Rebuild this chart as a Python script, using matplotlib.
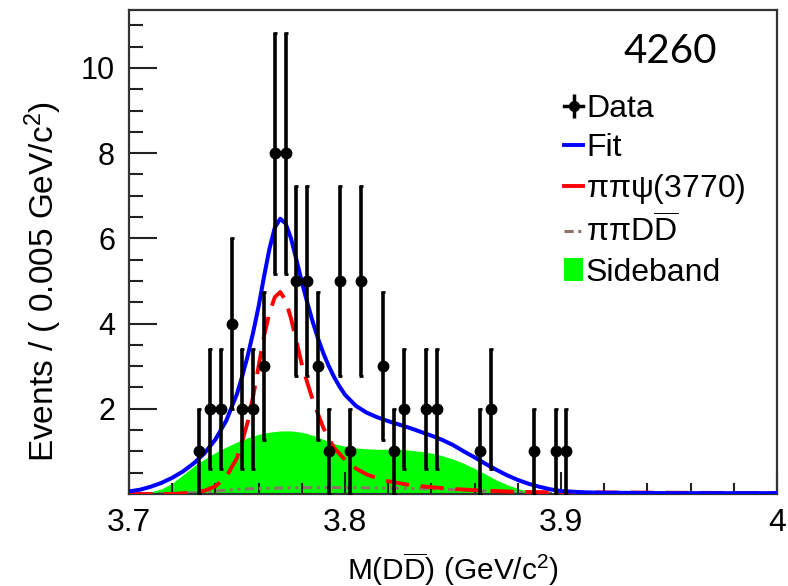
import numpy as np
import matplotlib
matplotlib.use("Agg")
import matplotlib.pyplot as plt
from matplotlib.lines import Line2D
from matplotlib.patches import Patch

plt.rcParams["font.family"] = ["Liberation Sans", "DejaVu Sans"]
plt.rcParams["mathtext.fontset"] = "custom"
plt.rcParams["mathtext.rm"] = "Liberation Sans"
plt.rcParams["mathtext.it"] = "Liberation Sans"
plt.rcParams["mathtext.bf"] = "Liberation Sans:bold"

# Binned data: bin centres (GeV/c^2) and event counts
bin_centers = [3.7325, 3.7375, 3.7425, 3.7475, 3.7525, 3.7575, 3.7625, 3.7675,
               3.7725, 3.7775, 3.7825, 3.7875, 3.7925, 3.7975, 3.8025, 3.8075,
               3.8175, 3.8225, 3.8275, 3.8375, 3.8425, 3.8625, 3.8675, 3.8875,
               3.8975, 3.9025]
counts = [1, 2, 2, 4, 2, 2, 3, 8,
          8, 5, 5, 3, 1, 5, 1, 5,
          3, 1, 2, 2, 2, 1, 2, 1,
          1, 1]

# Total fit
fit_x = [3.700, 3.705, 3.710, 3.715, 3.720, 3.725, 3.730, 3.735, 3.740, 3.745,
         3.750, 3.7525, 3.755, 3.7575, 3.760, 3.7625, 3.765, 3.7675, 3.770,
         3.7725, 3.775, 3.7775, 3.780, 3.7825, 3.785, 3.7875, 3.790, 3.7925,
         3.795, 3.7975, 3.800, 3.805, 3.810, 3.815, 3.820, 3.825, 3.830, 3.835,
         3.840, 3.845, 3.850, 3.855, 3.860, 3.865, 3.870, 3.875, 3.880, 3.885,
         3.890, 3.895, 3.900, 3.910, 3.920, 3.950, 4.000]
fit_y = [0.06, 0.10, 0.17, 0.26, 0.38, 0.53, 0.72, 0.96, 1.28, 1.72,
         2.35, 2.78, 3.25, 3.80, 4.40, 5.10, 5.75, 6.25, 6.46,
         6.35, 6.00, 5.50, 4.98, 4.50, 4.05, 3.65, 3.30, 3.00,
         2.74, 2.52, 2.33, 2.07, 1.91, 1.80, 1.71, 1.63, 1.55, 1.46,
         1.37, 1.27, 1.15, 1.00, 0.86, 0.71, 0.57, 0.44, 0.33, 0.24,
         0.17, 0.11, 0.07, 0.04, 0.03, 0.02, 0.02]

# pi pi psi(3770) component
psi_x = [3.700, 3.720, 3.730, 3.735, 3.740, 3.745, 3.750, 3.7525, 3.755, 3.7575,
         3.760, 3.7625, 3.765, 3.7675, 3.770, 3.7725, 3.775, 3.7775, 3.780,
         3.7825, 3.785, 3.7875, 3.790, 3.7925, 3.795, 3.800, 3.805, 3.810,
         3.815, 3.820, 3.830, 3.840, 3.850, 3.860, 3.870, 3.880, 3.900, 3.950,
         4.000]
psi_y = [0.00, 0.00, 0.03, 0.08, 0.18, 0.40, 0.85, 1.25, 1.70, 2.30,
         3.00, 3.70, 4.25, 4.62, 4.74, 4.55, 4.12, 3.58, 3.05,
         2.62, 2.22, 1.88, 1.55, 1.30, 1.08, 0.80, 0.60, 0.46,
         0.37, 0.30, 0.21, 0.16, 0.12, 0.09, 0.07, 0.05, 0.04, 0.03,
         0.02]

# pi pi D Dbar component
ddbar_x = [3.700, 3.720, 3.730, 3.740, 3.750, 3.760, 3.780, 3.800, 3.820, 3.840,
           3.860, 3.880, 3.900, 3.920, 4.000]
ddbar_y = [0.00, 0.01, 0.03, 0.07, 0.11, 0.13, 0.15, 0.15, 0.14, 0.12,
           0.08, 0.04, 0.01, 0.00, 0.00]

# Sideband shape
side_x = [3.700, 3.705, 3.710, 3.715, 3.720, 3.725, 3.730, 3.735, 3.740, 3.745,
          3.750, 3.755, 3.760, 3.765, 3.770, 3.775, 3.780, 3.785, 3.790, 3.795,
          3.800, 3.805, 3.810, 3.815, 3.820, 3.825, 3.830, 3.835, 3.840, 3.845,
          3.850, 3.855, 3.860, 3.865, 3.870, 3.875, 3.880, 3.885, 3.890, 3.895,
          3.900, 4.000]
side_y = [0.00, 0.02, 0.05, 0.12, 0.25, 0.45, 0.65, 0.82, 0.97, 1.10,
          1.22, 1.32, 1.40, 1.45, 1.48, 1.48, 1.45, 1.38, 1.28, 1.18,
          1.12, 1.08, 1.06, 1.05, 1.05, 1.05, 1.03, 1.00, 0.96, 0.90,
          0.82, 0.72, 0.60, 0.47, 0.33, 0.22, 0.13, 0.07, 0.03, 0.01,
          0.00, 0.00]

DDBAR_STYLE = (0, (3, 1.5, 1, 1.5, 1, 1.5))

fig = plt.figure(figsize=(7.88, 5.86), dpi=100)
ax = fig.add_axes([129 / 788, 1 - 494 / 586, (777 - 129) / 788, (494 - 10) / 586])

ax.fill_between(side_x, side_y, 0, color="#00ff00", lw=0, zorder=1)
ax.plot(ddbar_x, ddbar_y, color="#8c7268", lw=2.2, ls=DDBAR_STYLE, zorder=2)
ax.plot(psi_x, psi_y, color="#ff0000", lw=2.8, ls=(0, (6, 3)), zorder=3)
ax.plot(fit_x, fit_y, color="#0000ff", lw=2.9, zorder=4)

cnt = np.array(counts, dtype=float)
ax.errorbar(bin_centers, cnt, yerr=np.sqrt(cnt), fmt="o", color="black",
            ms=7.5, elinewidth=2.6, capsize=1.5, capthick=2, zorder=5)

ax.set_xlim(3.7, 4.0)
ax.set_ylim(0, 11.36)
ax.set_xticks([3.7, 3.8, 3.9, 4.0])
ax.set_xticklabels(["3.7", "3.8", "3.9", "4"])
ax.set_xticks(np.arange(3.72, 4.0, 0.02), minor=True)
ax.set_yticks([2, 4, 6, 8, 10])
ax.set_yticks(np.arange(0.5, 11.3, 0.5), minor=True)

ax.tick_params(axis="both", which="both", direction="in", color="#222222")
ax.tick_params(axis="y", which="major", length=20, width=1.5, labelsize=22, pad=10)
ax.tick_params(axis="y", which="minor", length=10, width=1.5)
ax.tick_params(axis="x", which="major", length=16, width=1.5, labelsize=23, pad=10)
ax.tick_params(axis="x", which="minor", length=8, width=1.5)
for s in ax.spines.values():
    s.set_linewidth(1.6)
    s.set_color("#333333")

ax.set_ylabel(r"Events / ( 0.005 GeV/c$^{2}$)", fontsize=24)
ax.set_xlabel(r"M(D$\overline{\mathrm{D}}$) (GeV/c$^{2}$)", fontsize=21.5)
ax.yaxis.set_label_coords(-0.10, 0.44)
ax.xaxis.set_label_coords(0.5, -0.116)

data_handle = (Line2D([], [], color="black", lw=2.5),
               Line2D([], [], color="black", marker="|", ms=17, mew=2.5, ls=""),
               Line2D([], [], color="black", marker="o", ms=7, ls=""))
handles = [
    data_handle,
    Line2D([], [], color="#0000ff", lw=2.8),
    Line2D([], [], color="#ff0000", lw=2.8),
    Line2D([], [], color="#8c7268", lw=2.2, ls=DDBAR_STYLE),
    Patch(facecolor="#00ff00", edgecolor="none"),
]
labels = ["Data", "Fit", r"$\mathrm{\pi\pi\psi}$(3770)",
          r"$\mathrm{\pi\pi D\overline{D}}$", "Sideband"]
ax.legend(handles, labels, loc="upper left", bbox_to_anchor=(0.651, 0.853),
          frameon=False, fontsize=23, handlelength=0.62, handletextpad=0.08,
          labelspacing=0.28, borderaxespad=0)

ax.text(0.835, 0.915, "4260", transform=ax.transAxes, fontsize=29,
        family=["Lato", "DejaVu Sans"], ha="center", va="center",
        bbox=dict(facecolor="white", edgecolor="none", pad=6), zorder=6)

fig.savefig("out.png", dpi=100)
